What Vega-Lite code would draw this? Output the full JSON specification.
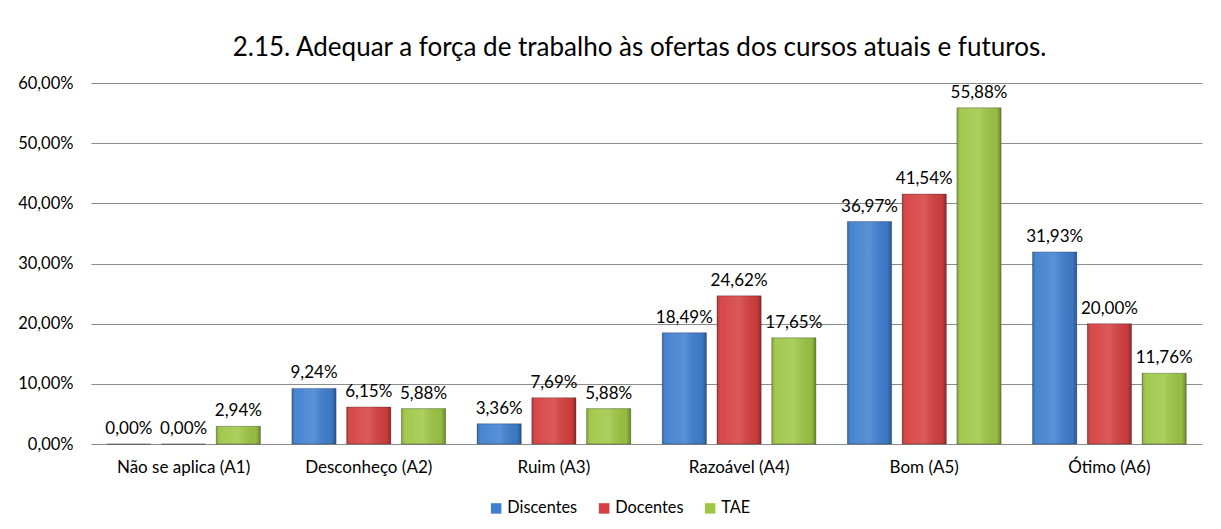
{
  "$schema": "https://vega.github.io/schema/vega-lite/v6.json",
  "autosize": "none",
  "width": 1111,
  "height": 361,
  "padding": {"left": 91, "top": 83, "right": 19, "bottom": 85},
  "background": "white",
  "config": {
    "locale": {"number": {"decimal": ",", "thousands": ".", "grouping": [3], "currency": ["R$", ""]}},
    "font": "Lato",
    "view": {"stroke": null}
  },
  "title": {
    "text": "2.15. Adequar a força de trabalho às ofertas dos cursos atuais e futuros.",
    "fontSize": 26,
    "fontWeight": "normal",
    "color": "#000000",
    "anchor": "middle",
    "offset": 14,
    "dx": -7
  },
  "data": {
    "values": [
      {"cat": "Não se aplica (A1)", "serie": "Discentes", "v": 0.0},
      {"cat": "Não se aplica (A1)", "serie": "Docentes", "v": 0.0},
      {"cat": "Não se aplica (A1)", "serie": "TAE", "v": 0.0294},
      {"cat": "Desconheço (A2)", "serie": "Discentes", "v": 0.0924},
      {"cat": "Desconheço (A2)", "serie": "Docentes", "v": 0.0615},
      {"cat": "Desconheço (A2)", "serie": "TAE", "v": 0.0588},
      {"cat": "Ruim (A3)", "serie": "Discentes", "v": 0.0336},
      {"cat": "Ruim (A3)", "serie": "Docentes", "v": 0.0769},
      {"cat": "Ruim (A3)", "serie": "TAE", "v": 0.0588},
      {"cat": "Razoável (A4)", "serie": "Discentes", "v": 0.1849},
      {"cat": "Razoável (A4)", "serie": "Docentes", "v": 0.2462},
      {"cat": "Razoável (A4)", "serie": "TAE", "v": 0.1765},
      {"cat": "Bom (A5)", "serie": "Discentes", "v": 0.3697},
      {"cat": "Bom (A5)", "serie": "Docentes", "v": 0.4154},
      {"cat": "Bom (A5)", "serie": "TAE", "v": 0.5588},
      {"cat": "Ótimo (A6)", "serie": "Discentes", "v": 0.3193},
      {"cat": "Ótimo (A6)", "serie": "Docentes", "v": 0.2},
      {"cat": "Ótimo (A6)", "serie": "TAE", "v": 0.1176}
    ]
  },
  "encoding": {
    "x": {
      "field": "cat", "type": "nominal", "sort": null,
      "scale": {"paddingInner": 0.17, "paddingOuter": 0.085},
      "axis": {"title": null, "labelAngle": 0, "labelFontSize": 17, "labelColor": "#000000", "labelPadding": 15, "ticks": false, "domain": false}
    },
    "xOffset": {"field": "serie", "type": "nominal", "sort": ["Discentes", "Docentes", "TAE"], "scale": {"paddingInner": 0.193, "paddingOuter": 0}},
    "y": {
      "field": "v", "type": "quantitative",
      "scale": {"domain": [0, 0.6], "nice": false},
      "axis": {"title": null, "format": ".2%", "values": [0, 0.1, 0.2, 0.3, 0.4, 0.5, 0.6], "labelFontSize": 16.5, "labelColor": "#000000", "labelPadding": 18, "ticks": false, "domain": false, "gridColor": "#8c8c8c", "gridOpacity": 1}
    }
  },
  "layer": [
    {
      "mark": {"type": "bar"},
      "encoding": {
        "color": {
          "field": "serie", "type": "nominal", "sort": ["Discentes", "Docentes", "TAE"],
          "scale": {"domain": ["Discentes", "Docentes", "TAE"], "range": ["#3f7fd0", "#d63f3f", "#9ec745"]},
          "legend": {"orient": "none", "legendX": 397, "legendY": 417, "direction": "horizontal", "title": null, "symbolType": "square", "symbolSize": 110, "symbolOpacity": 1, "labelFontSize": 16.3, "labelColor": "#000000", "columnPadding": 18, "labelOffset": 3, "symbolStrokeWidth": 0}
        }
      }
    },
    {
      "mark": {
        "type": "bar",
        "fill": {
          "gradient": "linear", "x1": 0, "x2": 1, "y1": 0, "y2": 0,
          "stops": [
            {"offset": 0, "color": "rgba(0,0,0,0.22)"},
            {"offset": 0.1, "color": "rgba(255,255,255,0.05)"},
            {"offset": 0.5, "color": "rgba(255,255,255,0.14)"},
            {"offset": 0.9, "color": "rgba(0,0,0,0.06)"},
            {"offset": 1, "color": "rgba(0,0,0,0.32)"}
          ]
        },
        "stroke": "rgba(0,0,0,0.25)",
        "strokeWidth": 1
      }
    },
    {
      "mark": {"type": "text", "baseline": "bottom", "dy": -6, "fontSize": 17, "color": "#000000"},
      "encoding": {"text": {"field": "v", "type": "quantitative", "format": ".2%"}}
    }
  ]
}
